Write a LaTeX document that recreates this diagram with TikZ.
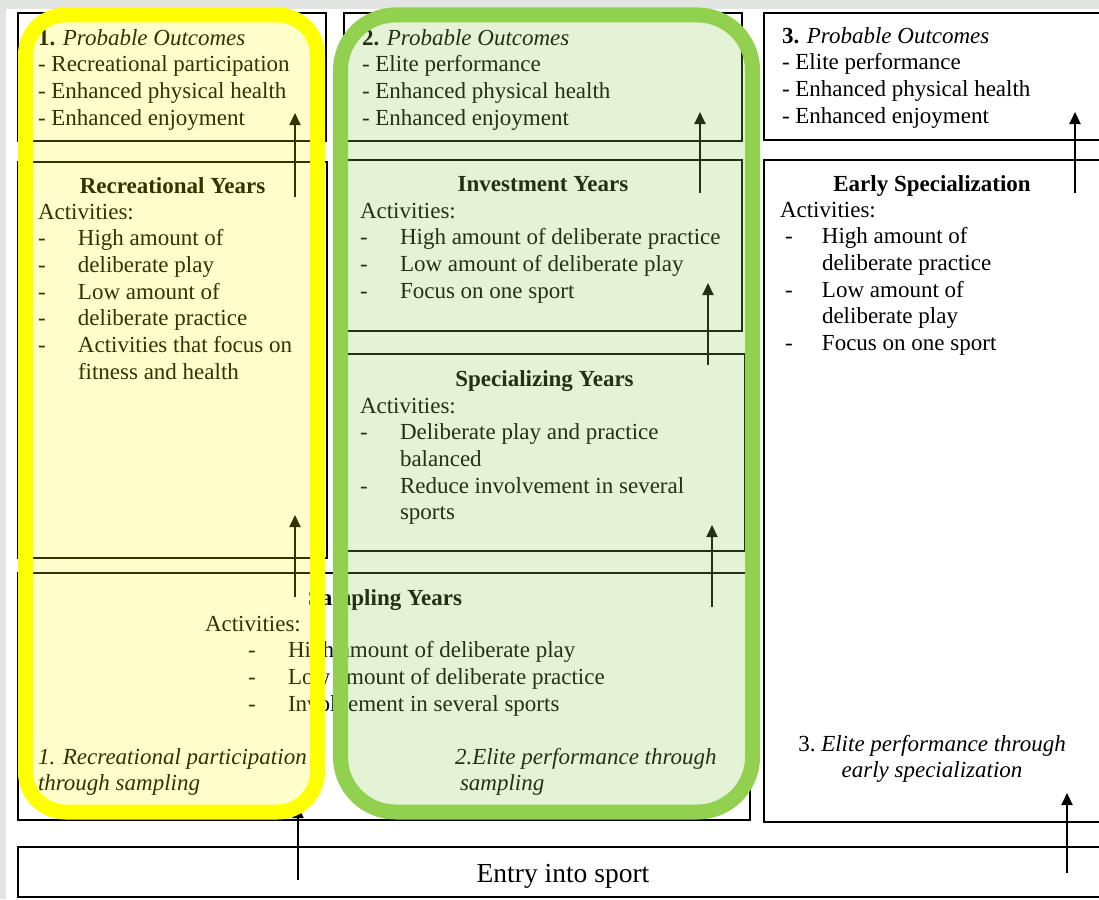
\documentclass[tikz,border=0pt]{standalone}
\usepackage{fontspec}
\setmainfont{Liberation Serif}
\usetikzlibrary{arrows.meta}
\definecolor{hlyellow}{RGB}{255,255,0}
\definecolor{hlgreen}{RGB}{146,208,80}
\definecolor{framegray}{RGB}{226,229,226}
\newcommand{\lidash}{\makebox[40pt][l]{-}}
\newcommand{\edash}{\hspace*{5pt}\makebox[37pt][l]{-}}
\begin{document}
\begin{tikzpicture}[x=1pt,y=-1pt,
  box/.style={draw=black,line width=2pt,inner sep=0pt,outer sep=0pt},
  txt/.style={inner sep=0pt,outer sep=0pt,anchor=base west,align=left,font=\fontsize{23}{26.7}\selectfont},
  itxt/.style={txt,font=\fontsize{23}{26.7}\selectfont\itshape},
  head/.style={inner sep=0pt,outer sep=0pt,anchor=base,font=\fontsize{23}{26.7}\selectfont\bfseries},
  up/.style={-{Triangle[length=12pt,width=11pt]},line width=2pt},
  hlbox/.style={line width=15pt}
]
\useasboundingbox (0,0) rectangle (1099,899);
\fill[framegray] (0,0) rectangle (1099,899);
\fill[white] (6,9) rectangle (1099,899);

% boxes
\node[box,minimum width=308pt,minimum height=128pt] (out1) at (172,77) {};
\node[box,minimum width=398pt,minimum height=128pt] (out2) at (543,77) {};
\node[box,minimum width=346pt,minimum height=127pt] (out3) at (937,76.5) {};
\node[box,minimum width=309pt,minimum height=396pt] (rec) at (172.5,360) {};
\node[box,minimum width=398pt,minimum height=171pt] (inv) at (543,245.5) {};
\node[box,minimum width=401pt,minimum height=197pt] (spec) at (544.5,452.5) {};
\node[box,minimum width=346pt,minimum height=662pt] (early) at (937,491) {};
\node[box,minimum width=732pt,minimum height=247pt] (samp) at (384,696.5) {};
\node[box,minimum width=1092pt,minimum height=50pt] (entry) at (564,872) {};

% outcome texts (base anchor = last line baseline)
\node[txt] (o1t) at (38,125.1) {\textbf{1.} \textit{Probable Outcomes}\\- Recreational participation\\- Enhanced physical health\\- Enhanced enjoyment};
\node[txt] (o2t) at (362,125.1) {\textbf{2.} \textit{Probable Outcomes}\\- Elite performance\\- Enhanced physical health\\- Enhanced enjoyment};
\node[txt] (o3t) at (782,123.1) {\textbf{3.} \textit{Probable Outcomes}\\- Elite performance\\- Enhanced physical health\\- Enhanced enjoyment};

% recreational years
\node[head] (rech) at (172.5,193) {Recreational Years};
\node[txt] (rect) at (38,379.2) {Activities:\\\lidash High amount of\\\lidash deliberate play\\\lidash Low amount of\\\lidash deliberate practice\\\lidash Activities that focus on\\\hspace*{40pt}fitness and health};

% investment years
\node[head] (invh) at (543,191) {Investment Years};
\node[txt] (invt) at (360,298.1) {Activities:\\\lidash High amount of deliberate practice\\\lidash Low amount of deliberate play\\\lidash Focus on one sport};

% specializing years
\node[head] (spech) at (544.5,386) {Specializing Years};
\node[txt] (spect) at (360,519.8) {Activities:\\\lidash Deliberate play and practice\\\hspace*{40pt}balanced\\\lidash Reduce involvement in several\\\hspace*{40pt}sports};

% early specialization
\node[head] (earlyh) at (932,191) {Early Specialization};
\node[txt] (earlyt) at (780,350.5) {Activities:\\\edash High amount of\\\hspace*{42pt}deliberate practice\\\edash Low amount of\\\hspace*{42pt}deliberate play\\\edash Focus on one sport};
\node[txt,anchor=base,align=center] (earlyo) at (932,777.7) {3.~\textit{Elite performance through}\\\textit{early specialization}};

% sampling years
\node[head] (samph) at (385,605) {Sampling Years};
\node[txt] (sampt) at (205,711.1) {Activities:\\\hspace*{43pt}\lidash High amount of deliberate play\\\hspace*{43pt}\lidash Low amount of deliberate practice\\\hspace*{43pt}\lidash Involvement in several sports};
\node[itxt] (path1) at (38,790.7) {1. Recreational participation\\through sampling};
\node[itxt] (path2) at (455,790.7) {2.Elite performance through\\\hspace*{5pt}sampling};

% entry
\node[inner sep=0pt,anchor=base,font=\fontsize{27.5}{30}\selectfont] (entryt) at (563,882) {Entry into sport};

% arrows
\coordinate (a1s) at (295,197); \coordinate (a1e) at (295,113);
\coordinate (a2s) at (295,597); \coordinate (a2e) at (295,515);
\coordinate (a3s) at (298,880); \coordinate (a3e) at (298,806);
\coordinate (b1s) at (700,193); \coordinate (b1e) at (700,112);
\coordinate (b2s) at (708,365); \coordinate (b2e) at (708,283);
\coordinate (b3s) at (712,607); \coordinate (b3e) at (712,525);
\coordinate (c1s) at (1075,193); \coordinate (c1e) at (1075,112);
\coordinate (c2s) at (1067,873); \coordinate (c2e) at (1067,793);
\draw[up] (a1s) -- (a1e);
\draw[up] (a2s) -- (a2e);
\draw[up] (a3s) -- (a3e);
\draw[up] (b1s) -- (b1e);
\draw[up] (b2s) -- (b2e);
\draw[up] (b3s) -- (b3e);
\draw[up] (c1s) -- (c1e);
\draw[up] (c2s) -- (c2e);

% highlight overlays
\draw[hlbox,draw=hlyellow,fill=hlyellow,fill opacity=0.2,rounded corners=40pt] (25.5,15) rectangle (317.5,812);
\draw[hlbox,draw=hlgreen,fill=hlgreen,fill opacity=0.24,rounded corners=55pt] (340.5,15) rectangle (752.5,812);
\end{tikzpicture}
\end{document}
